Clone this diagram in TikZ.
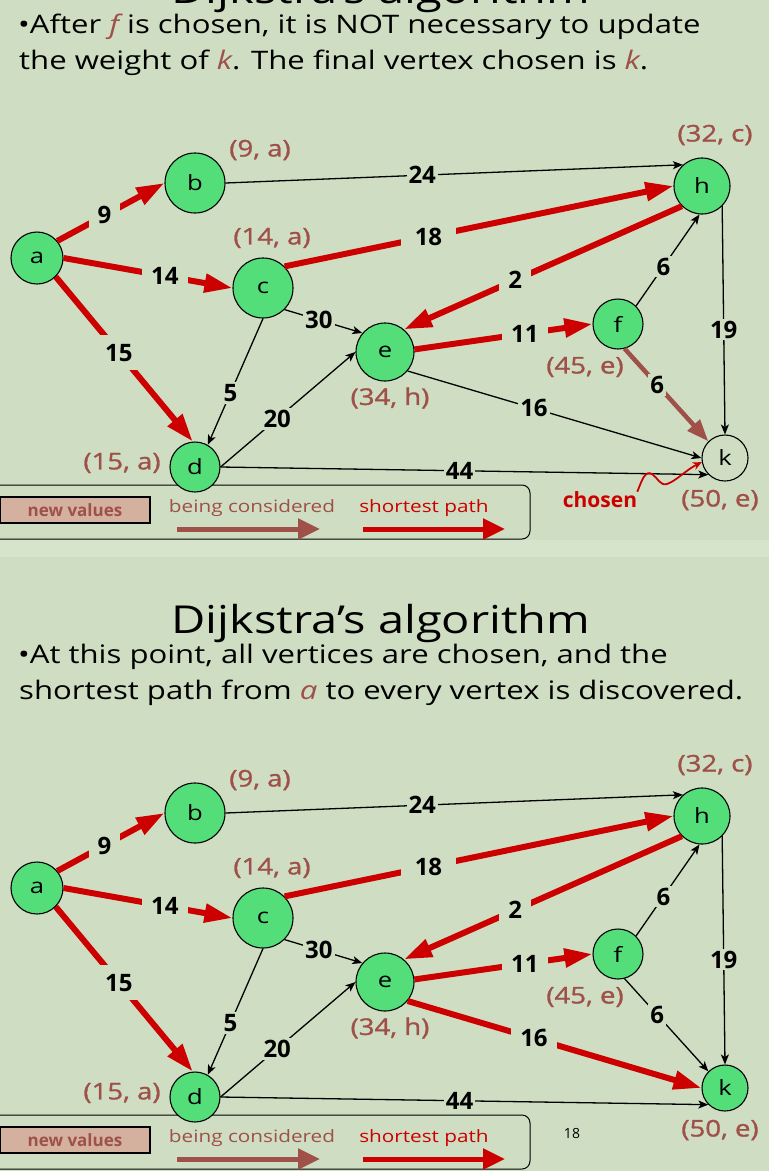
\documentclass[tikz,border=0pt]{standalone}
\usepackage{fontspec}
\setmainfont{Open Sans}
\newfontfamily\wide[FakeStretch=1.22]{Open Sans}
\newfontfamily\valf[FakeStretch=1.2, FakeBold=1.2]{Open Sans}
\usetikzlibrary{arrows.meta}
\definecolor{bg}{RGB}{207,222,195}
\definecolor{band}{RGB}{213,228,202}
\definecolor{ngreen}{RGB}{84,222,122}
\definecolor{pred}{RGB}{204,0,0}
\definecolor{pbrown}{RGB}{158,80,73}
\definecolor{ptan}{RGB}{212,176,158}
\tikzset{
  vtx/.style={circle, draw=black, line width=1.1pt, fill=ngreen, inner sep=0pt, font=\wide\fontsize{21}{21}\selectfont},
  val/.style={text=pbrown, inner sep=0pt, font=\valf\fontsize{23}{23}\selectfont},
  redge/.style={draw=pred, line width=6pt, -{Triangle[length=28pt,width=18pt]}},
  bedge/.style={draw=black, line width=1.3pt, -{Stealth[length=10pt,width=8pt,inset=2.5pt]}},
  bredge/.style={draw=pbrown, line width=4.5pt, -{Triangle[length=22pt,width=16pt]}},
  bl/.style={fill=bg, inner sep=2pt, font=\bfseries\fontsize{24}{24}\selectfont},
  rl/.style={fill=bg, inner sep=9pt, font=\bfseries\fontsize{24}{24}\selectfont},
  bullet/.style={anchor=base west, inner sep=0pt, font=\wide\fontsize{25.5}{25.5}\selectfont},
  titl/.style={anchor=base, inner sep=0pt, font=\wide\fontsize{38.5}{38.5}\selectfont},
  leg/.style={inner sep=0pt, font=\wide\fontsize{17}{17}\selectfont},
}
\newcommand\drawgraph[1]{%
  \draw[line width=1pt, rounded corners=8pt] (0,485) -- (530,485) -- (530,539) -- (0,539);
  \node[draw=black, line width=1.3pt, fill=ptan, minimum width=150pt, minimum height=26pt, inner sep=0pt,
        text=pbrown, font=\bfseries\fontsize{17}{17}\selectfont] (nv) at (75,510) {new values};
  \node[leg, text=pbrown] (bc) at (252,508) {being considered};
  \node[leg, text=pred] (sp) at (424,508) {shortest path};
  \coordinate (bcs) at (177,529); \coordinate (bce) at (320,529);
  \coordinate (sps) at (363,529); \coordinate (spe) at (505,529);
  \draw[draw=pbrown, line width=5pt, -{Triangle[length=22pt,width=20pt]}] (bcs) -- (bce);
  \draw[draw=pred, line width=5pt, -{Triangle[length=22pt,width=20pt]}] (sps) -- (spe);
  \node[vtx, minimum size=52pt] (a) at (37,258) {a};
  \node[vtx, minimum size=60pt] (b) at (195,183) {b};
  \node[vtx, minimum size=60pt] (c) at (263,288) {c};
  \node[vtx, minimum size=56pt] (h) at (702,186) {h};
  \node[vtx, minimum size=58pt] (e) at (385,352) {e};
  \node[vtx, minimum size=50pt] (f) at (618,324) {f};
  \node[vtx, minimum size=50pt] (d) at (195,467) {d};
  \node[vtx, minimum size=46pt, #1] (k) at (725,458) {k};
  \node[val] (vb) at (260,150) {(9, a)};
  \node[val] (vc) at (272,238) {(14, a)};
  \node[val] (vh) at (715,135) {(32, c)};
  \node[val] (ve) at (390,398) {(34, h)};
  \node[val] (vf) at (585,367) {(45, e)};
  \node[val] (vd) at (122,463) {(15, a)};
  \node[val] (vk) at (720,500) {(50, e)};
  \draw[redge] (a.40) -- (b.west) node[rl, pos=0.44] {9};
  \draw[redge] (a.east) -- (c.west) node[rl, pos=0.6] {14};
  \draw[redge] (a.-45) -- (d.95) node[rl, pos=0.46] {15};
  \draw[bedge] (b.east) -- (h.132) node[bl, pos=0.43] {24};
  \draw[redge] (c.45) -- (h.west) node[rl, inner sep=14pt, pos=0.37] {18};
  \draw[redge] (h.225) -- (e.50) node[rl, pos=0.6] {2};
  \draw[bedge] (f.45) -- (h.265) node[bl, pos=0.43] {6};
  \draw[bedge] (c.south) -- (d.60) node[bl, pos=0.59] {5};
  \draw[bedge] (c.-45) -- (e.140) node[bl, pos=0.44] {30};
  \draw[bedge] (d.east) -- (e.west) node[bl, pos=0.42] {20};
  \draw[redge] (e.5) -- (f.west) node[rl, pos=0.62] {11};
  \draw[bedge] (h.-45) -- (k.north) node[bl, pos=0.54] {19};
  \draw[bedge] (d.east) -- (k.225) node[bl, pos=0.49] {44};
}
\begin{document}
\begin{tikzpicture}[x=1pt,y=-1pt]
\useasboundingbox (0,0) rectangle (769,1171);
\clip (0,0) rectangle (769,1171);
\fill[bg] (0,0) rectangle (769,1171);
\fill[band] (0,540) rectangle (769,557);
% ---------- top slide ----------
\node[titl] (t1) at (381,3) {Dijkstra’s algorithm};
\node[bullet] (p1) at (18,33) {\textbullet After \textcolor{pbrown}{\itshape f} is chosen, it is NOT necessary to update};
\node[bullet] (p2) at (19,69) {the weight of \textcolor{pbrown}{\itshape k}. The final vertex chosen is \textcolor{pbrown}{\itshape k}.};
\begin{scope}[name prefix=T-]
  \drawgraph{fill=none}
  \draw[bredge] (f.-75) -- (k.135) node[bl, fill=bg, pos=0.39] {6};
  \draw[bedge] (e.-40) -- (k.west) node[bl, pos=0.43] {16};
  \node[inner sep=0pt, text=pred, font=\bfseries\fontsize{21}{21}\selectfont] (ch) at (600,500) {chosen};
  \draw[pred, line width=1.8pt, -{Stealth[length=9pt,width=8pt]}]
    (ch.north east) .. controls (642,480) and (645,470) .. (652,474)
    .. controls (658,478) and (660,486) .. (667,484)
    .. controls (676,481) and (686,470) .. (k.190);
\end{scope}
% ---------- bottom slide ----------
\node[titl] (t2) at (381,633) {Dijkstra’s algorithm};
\node[bullet] (q1) at (18,663) {\textbullet At this point, all vertices are chosen, and the};
\node[bullet] (q2) at (19,699) {shortest path from \textcolor{pbrown}{\itshape a} to every vertex is discovered.};
\begin{scope}[yshift=-630pt, name prefix=B-]
  \drawgraph{}
  \draw[bedge] (f.-75) -- (k.135) node[bl, pos=0.39] {6};
  \draw[redge] (e.-40) -- (k.west) node[rl, pos=0.43] {16};
  \node[inner sep=0pt, font=\fontsize{14}{14}\selectfont] (pg) at (572,503) {18};
\end{scope}
\end{tikzpicture}
\end{document}
